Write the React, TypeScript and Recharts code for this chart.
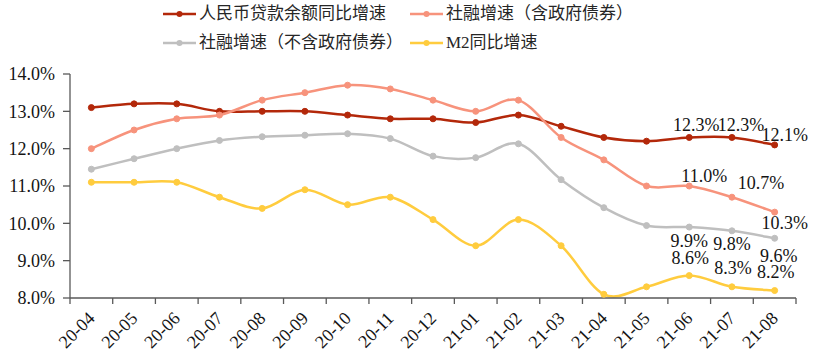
import React from 'react';
import { LineChart, Line, XAxis, YAxis, LabelList } from 'recharts';

// ---------- data ----------
const categories = [
  '20-04', '20-05', '20-06', '20-07', '20-08', '20-09', '20-10', '20-11', '20-12',
  '21-01', '21-02', '21-03', '21-04', '21-05', '21-06', '21-07', '21-08',
];
const loanGrowth = [13.1, 13.2, 13.2, 13.0, 13.0, 13.0, 12.9, 12.8, 12.8, 12.7, 12.9, 12.6, 12.3, 12.2, 12.3, 12.3, 12.1];
const tsfInclGov = [12.0, 12.5, 12.8, 12.9, 13.3, 13.5, 13.7, 13.6, 13.3, 13.0, 13.3, 12.3, 11.7, 11.0, 11.0, 10.7, 10.3];
const tsfExclGov = [11.45, 11.73, 12.0, 12.22, 12.32, 12.36, 12.4, 12.27, 11.8, 11.76, 12.13, 11.17, 10.42, 9.94, 9.9, 9.8, 9.6];
const m2Growth = [11.1, 11.1, 11.1, 10.7, 10.4, 10.9, 10.5, 10.7, 10.1, 9.4, 10.1, 9.4, 8.1, 8.3, 8.6, 8.3, 8.2];
const yTicks = [8, 9, 10, 11, 12, 13, 14];

// ---------- styles / layout ----------
const W = 813;
const H = 361;
const MARGIN = { top: 74, right: 17, bottom: 0, left: 0 };
const Y_AXIS_W = 70;
const X_AXIS_H = 63;
const PLOT_W = W - MARGIN.left - MARGIN.right - Y_AXIS_W;
const AXIS = '#595959';
const TEXT = '#141414';
const FONT = '"Liberation Serif", "Times New Roman", "Noto Sans CJK SC", serif';
const LABELED_COUNT = 3;

const series = [
  { key: 'loan', name: '人民币贷款余额同比增速', color: '#B3280A', values: loanGrowth,
    offsets: [[7, -13], [9, -13], [10, -10]] },
  { key: 'tsfIncl', name: '社融增速（含政府债券）', color: '#F7937C', values: tsfInclGov,
    offsets: [[15, -10], [29, -15], [10, 11]] },
  { key: 'tsfExcl', name: '社融增速（不含政府债券）', color: '#BFBFBF', values: tsfExclGov,
    offsets: [[0, 14], [0, 13], [4, 17]] },
  { key: 'm2', name: 'M2同比增速', color: '#FFCC3E', values: m2Growth,
    offsets: [[1, -18], [1, -19], [1, -19]] },
];

const data = categories.map((cat, i) => {
  const row: any = { cat };
  series.forEach((s) => { row[s.key] = s.values[i]; });
  return row;
});

// Excel-like smooth line (Catmull-Rom bezier)
const smoothCurve: any = (context: any) => {
  let pts: number[][] = [];
  return {
    areaStart() {},
    areaEnd() {},
    lineStart() { pts = []; },
    point(x: number, y: number) { pts.push([+x, +y]); },
    lineEnd() {
      const n = pts.length;
      if (!n) return;
      context.moveTo(pts[0][0], pts[0][1]);
      for (let i = 0; i < n - 1; i++) {
        const p0 = pts[Math.max(i - 1, 0)];
        const p1 = pts[i];
        const p2 = pts[i + 1];
        const p3 = pts[Math.min(i + 2, n - 1)];
        context.bezierCurveTo(
          p1[0] + (p2[0] - p0[0]) / 6, p1[1] + (p2[1] - p0[1]) / 6,
          p2[0] - (p3[0] - p1[0]) / 6, p2[1] - (p3[1] - p1[1]) / 6,
          p2[0], p2[1],
        );
      }
    },
  };
};

const band = PLOT_W / categories.length;

const XTick = (props: any) => {
  const { x, y, payload, index } = props;
  const last = index === categories.length - 1;
  const ly = y + 17;
  return (
    <g>
      <line x1={x - band / 2} x2={x - band / 2} y1={y} y2={y + 6} stroke={AXIS} strokeWidth={1.3} />
      {last && <line x1={x + band / 2} x2={x + band / 2} y1={y} y2={y + 6} stroke={AXIS} strokeWidth={1.3} />}
      <text x={x} y={ly} dy="0.35em" textAnchor="end" transform={`rotate(-45 ${x} ${ly})`}
        fontSize={18} fill={TEXT} fontFamily={FONT}>
        {payload.value}
      </text>
    </g>
  );
};

const makeLabel = (offsets: number[][]) => (props: any) => {
  const { x, y, value, index } = props;
  const start = categories.length - LABELED_COUNT;
  if (index < start) return null;
  const [dx, dy] = offsets[index - start];
  return (
    <text key={`lbl-${index}`} x={x + dx} y={y + dy} dy="0.35em" textAnchor="middle"
      fontSize={18} fill={TEXT} fontFamily={FONT}>
      {Number(value).toFixed(1)}%
    </text>
  );
};

const legendRows = [[series[0], series[1]], [series[2], series[3]]];
const legendCols = [163, 410];
const legendRowY = [14, 43];

const Legend = () => (
  <div>
    {legendRows.map((row, r) =>
      row.map((s, c) => (
        <div key={s.key} style={{
          position: 'absolute', left: legendCols[c], top: legendRowY[r] - 14, height: 28,
          display: 'flex', alignItems: 'center', whiteSpace: 'nowrap',
        }}>
          <svg width={33} height={10} style={{ marginRight: 3 }}>
            <line x1={0} x2={33} y1={5} y2={5} stroke={s.color} strokeWidth={2.5} />
            <circle cx={16.5} cy={5} r={3} fill={s.color} />
          </svg>
          <span style={{ fontSize: 17, color: '#262626', fontFamily: FONT, lineHeight: '28px' }}>{s.name}</span>
        </div>
      )),
    )}
  </div>
);

export default function App() {
  return (
    <div style={{ position: 'absolute', left: 0, top: 0, width: W, height: H, background: '#fff' }}>
      <Legend />
      <LineChart width={W} height={H} data={data} margin={MARGIN}>
        <XAxis dataKey="cat" scale="band" interval={0} height={X_AXIS_H} tickSize={0} tickMargin={0}
          tickLine={false} axisLine={{ stroke: AXIS, strokeWidth: 1.3 }} tick={<XTick />} />
        <YAxis domain={[8, 14]} ticks={yTicks} width={Y_AXIS_W} tickSize={7} tickMargin={8}
          tickFormatter={(v: number) => `${v.toFixed(1)}%`}
          axisLine={{ stroke: AXIS, strokeWidth: 1.3 }} tickLine={{ stroke: AXIS, strokeWidth: 1.3 }}
          tick={{ fontSize: 18, fill: TEXT, fontFamily: FONT }} />
        {series.map((s) => (
          <Line key={s.key} dataKey={s.key} name={s.name} type={smoothCurve} stroke={s.color}
            strokeWidth={2.5} dot={{ r: 3, fill: s.color, stroke: s.color, strokeWidth: 1 }}
            activeDot={false} isAnimationActive={false}>
            <LabelList dataKey={s.key} content={makeLabel(s.offsets)} />
          </Line>
        ))}
      </LineChart>
    </div>
  );
}
